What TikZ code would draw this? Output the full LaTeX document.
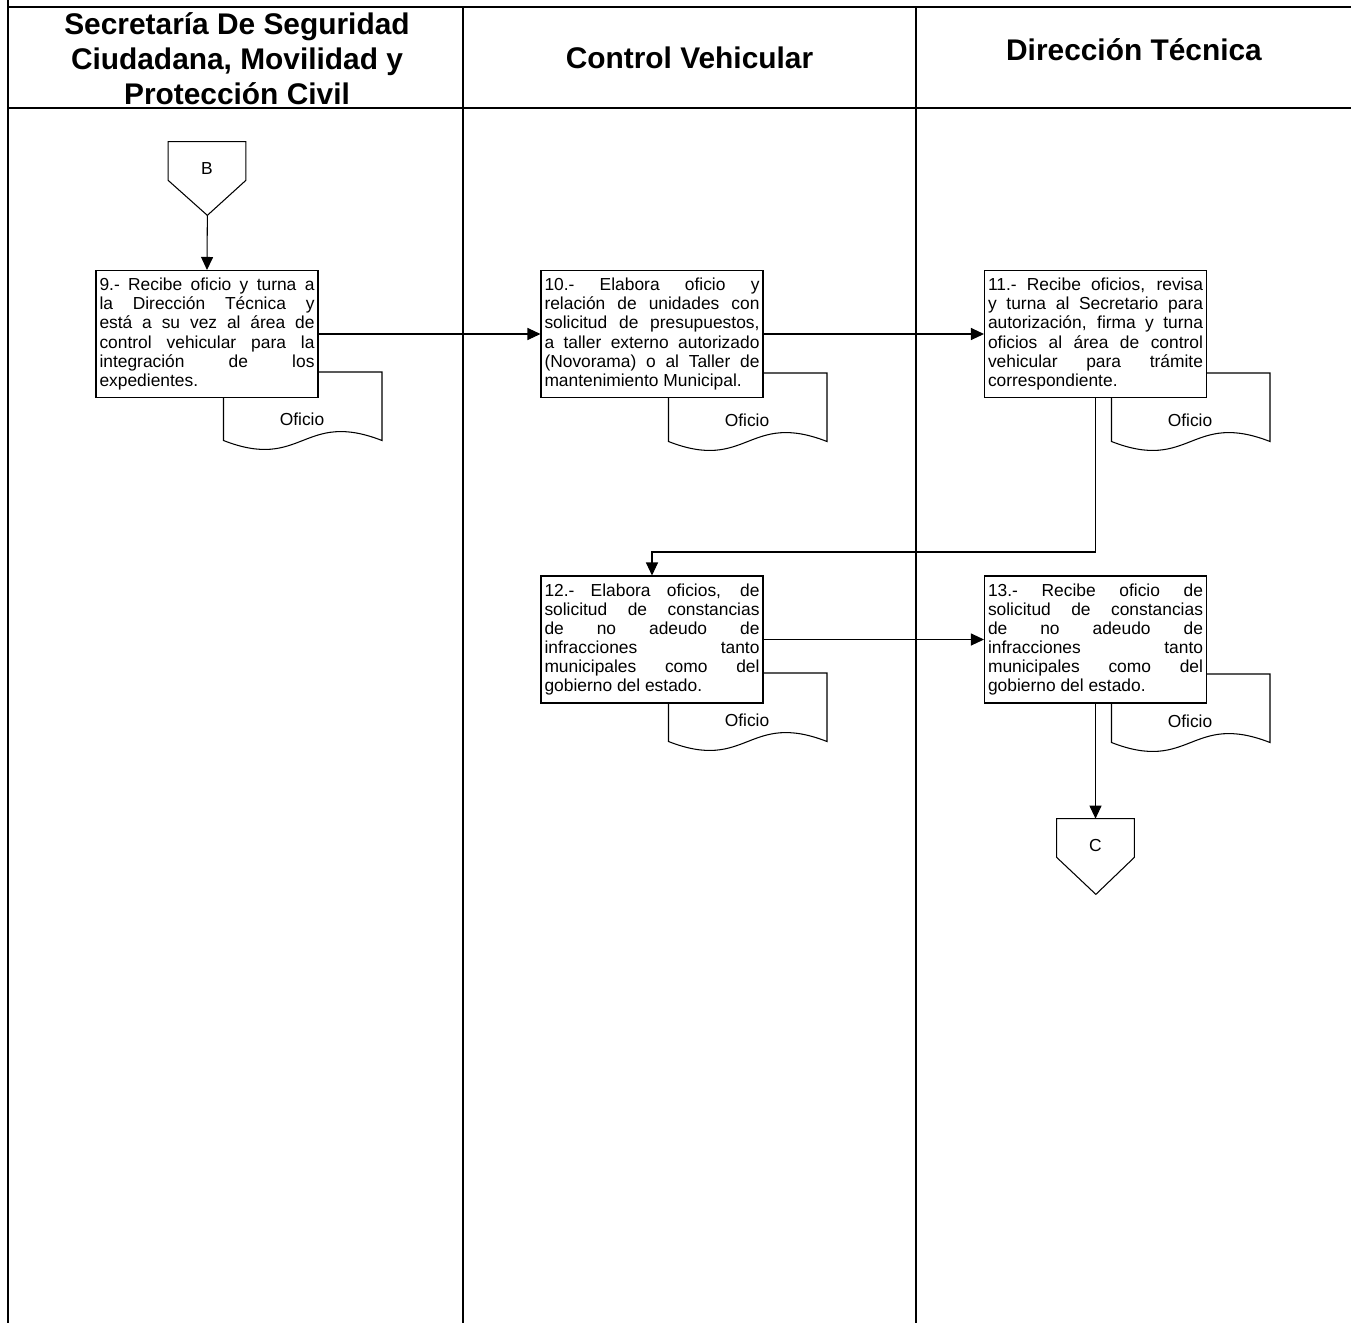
\documentclass[tikz,border=0pt]{standalone}
\usepackage{fontspec}
\setmainfont{Liberation Sans}
\usetikzlibrary{arrows.meta,positioning,calc,backgrounds}

% document symbol drawn round an "Oficio" label
\newcommand{\docshape}[1]{%
  \draw[docline] ([shift={(-1.57,-0.43)}]#1.center) -- ([shift={(-1.57,0.94)}]#1.center)
    -- ([shift={(1.6,0.94)}]#1.center) -- ([shift={(1.6,-0.43)}]#1.center)
    .. controls ([shift={(0.015,0.19)}]#1.center) and ([shift={(0.015,-1.05)}]#1.center)
    .. ([shift={(-1.57,-0.43)}]#1.center) -- cycle;}

\begin{document}
\begin{tikzpicture}[
  x=1cm, y=1cm,
  lane/.style={line width=1.1pt},
  head/.style={font=\fontsize{17}{19.8}\selectfont\bfseries, align=center},
  stepbox/.style={draw, fill=white, line width=0.6pt, text width=4.3cm, minimum height=2.54cm, inner sep=0.07cm, align=justify, font=\fontsize{9.9}{10.9}\selectfont},
  doclabel/.style={font=\fontsize{9.9}{11}\selectfont, inner sep=0pt},
  docline/.style={fill=white, line width=0.6pt},
  offpage/.style={minimum width=1.54cm, minimum height=0.76cm, inner sep=0pt, text height=0.52cm, text depth=0cm, font=\fontsize{9.9}{11}\selectfont},
  arrow/.style={-{Triangle[length=2.6mm,width=2.4mm]}, line width=0.6pt}
]
\useasboundingbox (0,0) rectangle (27.02,-26.46);

% lanes
\draw[lane] (0.16,0) -- (0.16,-26.46);
\draw[lane] (0.16,-0.14) -- (27.02,-0.14);
\draw[lane] (0.16,-2.16) -- (27.02,-2.16);
\draw[lane] (9.26,-0.14) -- (9.26,-26.46);
\draw[lane] (18.32,-0.14) -- (18.32,-26.46);

\node[head] (h1) at (4.74,-1.17) {Secretaría De Seguridad\\Ciudadana, Movilidad y\\Protección Civil};
\node[head] (h2) at (13.79,-1.16) {Control Vehicular};
\node[head] (h3) at (22.68,-1.0) {Dirección Técnica};

% steps
\node[offpage] (b) at (4.14,-3.22) {B};
\draw[line width=0.6pt] (b.south west) |- (b.north east) -- (b.south east) -- ++(-0.77,-0.7) coordinate (btip) -- cycle;

\node[stepbox] (s9) at (4.14,-6.68) {9.- Recibe oficio y turna a\linebreak la Dirección Técnica y\linebreak está a su vez al área de\linebreak control vehicular para la\linebreak integración de los\linebreak expedientes.};
\node[stepbox] (s10) at (13.04,-6.68) {10.- Elabora oficio y\linebreak relación de unidades con\linebreak solicitud de presupuestos,\linebreak a taller externo autorizado\linebreak (Novorama) o al Taller de\linebreak mantenimiento Municipal.};
\node[stepbox] (s11) at (21.91,-6.68) {11.- Recibe oficios, revisa\linebreak y turna al Secretario para\linebreak autorización, firma y turna\linebreak oficios al área de control\linebreak vehicular para trámite\linebreak correspondiente.};
\node[stepbox] (s12) at (13.04,-12.79) {12.- Elabora oficios, de\linebreak solicitud de constancias\linebreak de no adeudo de\linebreak infracciones tanto\linebreak municipales como del\linebreak gobierno del estado.};
\node[stepbox] (s13) at (21.91,-12.79) {13.- Recibe oficio de\linebreak solicitud de constancias\linebreak de no adeudo de\linebreak infracciones tanto\linebreak municipales como del\linebreak gobierno del estado.};

\node[doclabel] (d9) at (6.04,-8.38) {Oficio};
\node[doclabel] (d10) at (14.94,-8.40) {Oficio};
\node[doclabel] (d11) at (23.80,-8.40) {Oficio};
\node[doclabel] (d12) at (14.94,-14.40) {Oficio};
\node[doclabel] (d13) at (23.80,-14.42) {Oficio};

\node[offpage] (c) at (21.91,-16.76) {C};
\draw[line width=0.6pt] (c.south west) |- (c.north east) -- (c.south east) -- ++(-0.77,-0.74) -- cycle;

\coordinate (bend) at (21.91,-11.04);

\draw[arrow] (btip) -- (s9.north);
\draw[arrow] (s9.east) -- (s10.west);
\draw[arrow] (s10.east) -- (s11.west);
\draw[arrow] (s11.south) -- (bend) -| (s12.north);
\draw[arrow] (s12.east) -- (s13.west);
\draw[arrow] (s13.south) -- (c.north);

\begin{scope}[on background layer]
  \docshape{d9}
  \docshape{d10}
  \docshape{d11}
  \docshape{d12}
  \docshape{d13}
\end{scope}
\end{tikzpicture}
\end{document}
